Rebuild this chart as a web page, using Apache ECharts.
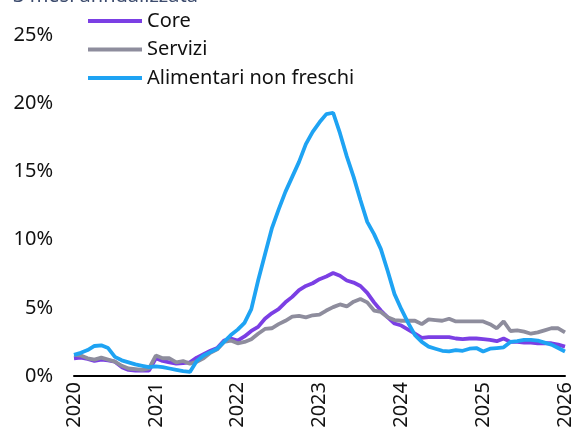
<!DOCTYPE html>
<html>
<head>
<meta charset="utf-8">
<script src="https://cdn.jsdelivr.net/npm/echarts@6/dist/echarts.min.js"></script>
<style>html,body{margin:0;padding:0;background:#fff}#c{width:577px;height:441px}</style>
</head>
<body>
<div id="c"></div>
<script>
// Monthly, Jan 2020 .. Jan 2026
const months = [];
for (let y = 2020; y <= 2026; y++) for (let m = 1; m <= 12; m++) { if (y === 2026 && m > 1) break; months.push(y + '-' + String(m).padStart(2, '0')); }

const core = [1.3,1.35,1.25,1.1,1.2,1.15,1.05,0.65,0.45,0.4,0.4,0.4,
  1.3,1.1,1.0,0.9,0.95,1.0,1.35,1.6,1.85,2.05,2.6,2.75,
  2.6,2.9,3.3,3.6,4.2,4.6,4.9,5.4,5.8,6.3,6.6,6.8,
  7.1,7.3,7.55,7.35,7.0,6.85,6.6,6.1,5.4,4.8,4.3,3.85,
  3.7,3.4,3.1,2.8,2.85,2.85,2.85,2.85,2.75,2.7,2.75,2.75,
  2.7,2.65,2.55,2.75,2.5,2.5,2.45,2.45,2.4,2.4,2.4,2.3,
  2.15];
const servizi = [1.55,1.5,1.3,1.2,1.35,1.2,1.05,0.75,0.55,0.5,0.45,0.55,
  1.5,1.3,1.3,1.0,1.1,0.9,1.05,1.3,1.7,1.95,2.5,2.6,
  2.4,2.5,2.7,3.1,3.45,3.5,3.8,4.05,4.35,4.4,4.3,4.45,
  4.5,4.8,5.05,5.25,5.1,5.45,5.65,5.4,4.8,4.7,4.3,4.1,
  4.05,4.05,4.05,3.8,4.15,4.1,4.05,4.2,4.0,4.0,4.0,4.0,
  4.0,3.8,3.5,4.0,3.3,3.35,3.25,3.1,3.2,3.35,3.5,3.5,
  3.2];
const alimentari = [1.55,1.7,1.9,2.2,2.25,2.05,1.4,1.15,1.0,0.85,0.75,0.65,
  0.7,0.65,0.55,0.45,0.35,0.3,1.1,1.5,1.75,2.0,2.5,3.0,
  3.4,3.9,4.9,7.0,8.9,10.8,12.2,13.5,14.6,15.7,17.0,17.9,
  18.6,19.2,19.3,17.8,16.1,14.6,12.9,11.3,10.4,9.3,7.7,6.0,
  4.9,3.9,3.0,2.5,2.15,2.0,1.85,1.8,1.9,1.85,2.0,2.05,
  1.8,2.0,2.05,2.1,2.5,2.55,2.65,2.65,2.6,2.45,2.3,2.05,
  1.8];
const yTicks = [0, 5, 10, 15, 20, 25];

const font = 'Noto Sans';
const fs = 20;
const chart = echarts.init(document.getElementById('c'));
chart.setOption({
  animation: false,
  title: { text: '3 mesi annualizzata', left: 13, top: -14, padding: 0, textStyle: { color: '#3d4c6e', fontSize: fs, fontWeight: 'normal', fontFamily: font } },
  legend: {
    orient: 'vertical', left: 88, top: 11, padding: 0, itemWidth: 54, itemHeight: 4, itemGap: 8.5, icon: 'rect',
    textStyle: { fontSize: fs, color: '#111', fontFamily: font },
    data: ['Core', 'Servizi', 'Alimentari non freschi']
  },
  grid: { left: 74, right: 12, top: 35, bottom: 65 },
  xAxis: {
    type: 'category', data: months, boundaryGap: false,
    axisLine: { lineStyle: { color: '#000', width: 2 } },
    axisTick: { show: false },
    axisLabel: { interval: 11, rotate: 90, margin: 6, fontSize: fs, color: '#111', fontFamily: font,
      formatter: v => v.slice(0, 4) }
  },
  yAxis: {
    type: 'value', min: yTicks[0], max: yTicks[yTicks.length - 1], interval: 5,
    splitLine: { show: false }, axisLine: { show: false }, axisTick: { show: false },
    axisLabel: { margin: 21, fontSize: fs, color: '#111', fontFamily: font, formatter: v => v + '%' }
  },
  series: [
    { name: 'Core', type: 'line', data: core, showSymbol: false, color: '#7b3fe4', lineStyle: { width: 3.8 } },
    { name: 'Servizi', type: 'line', data: servizi, showSymbol: false, color: '#8e8d9d', lineStyle: { width: 3.8 } },
    { name: 'Alimentari non freschi', type: 'line', data: alimentari, showSymbol: false, color: '#1ea3f3', lineStyle: { width: 3.8 } }
  ]
});
</script>
</body>
</html>
